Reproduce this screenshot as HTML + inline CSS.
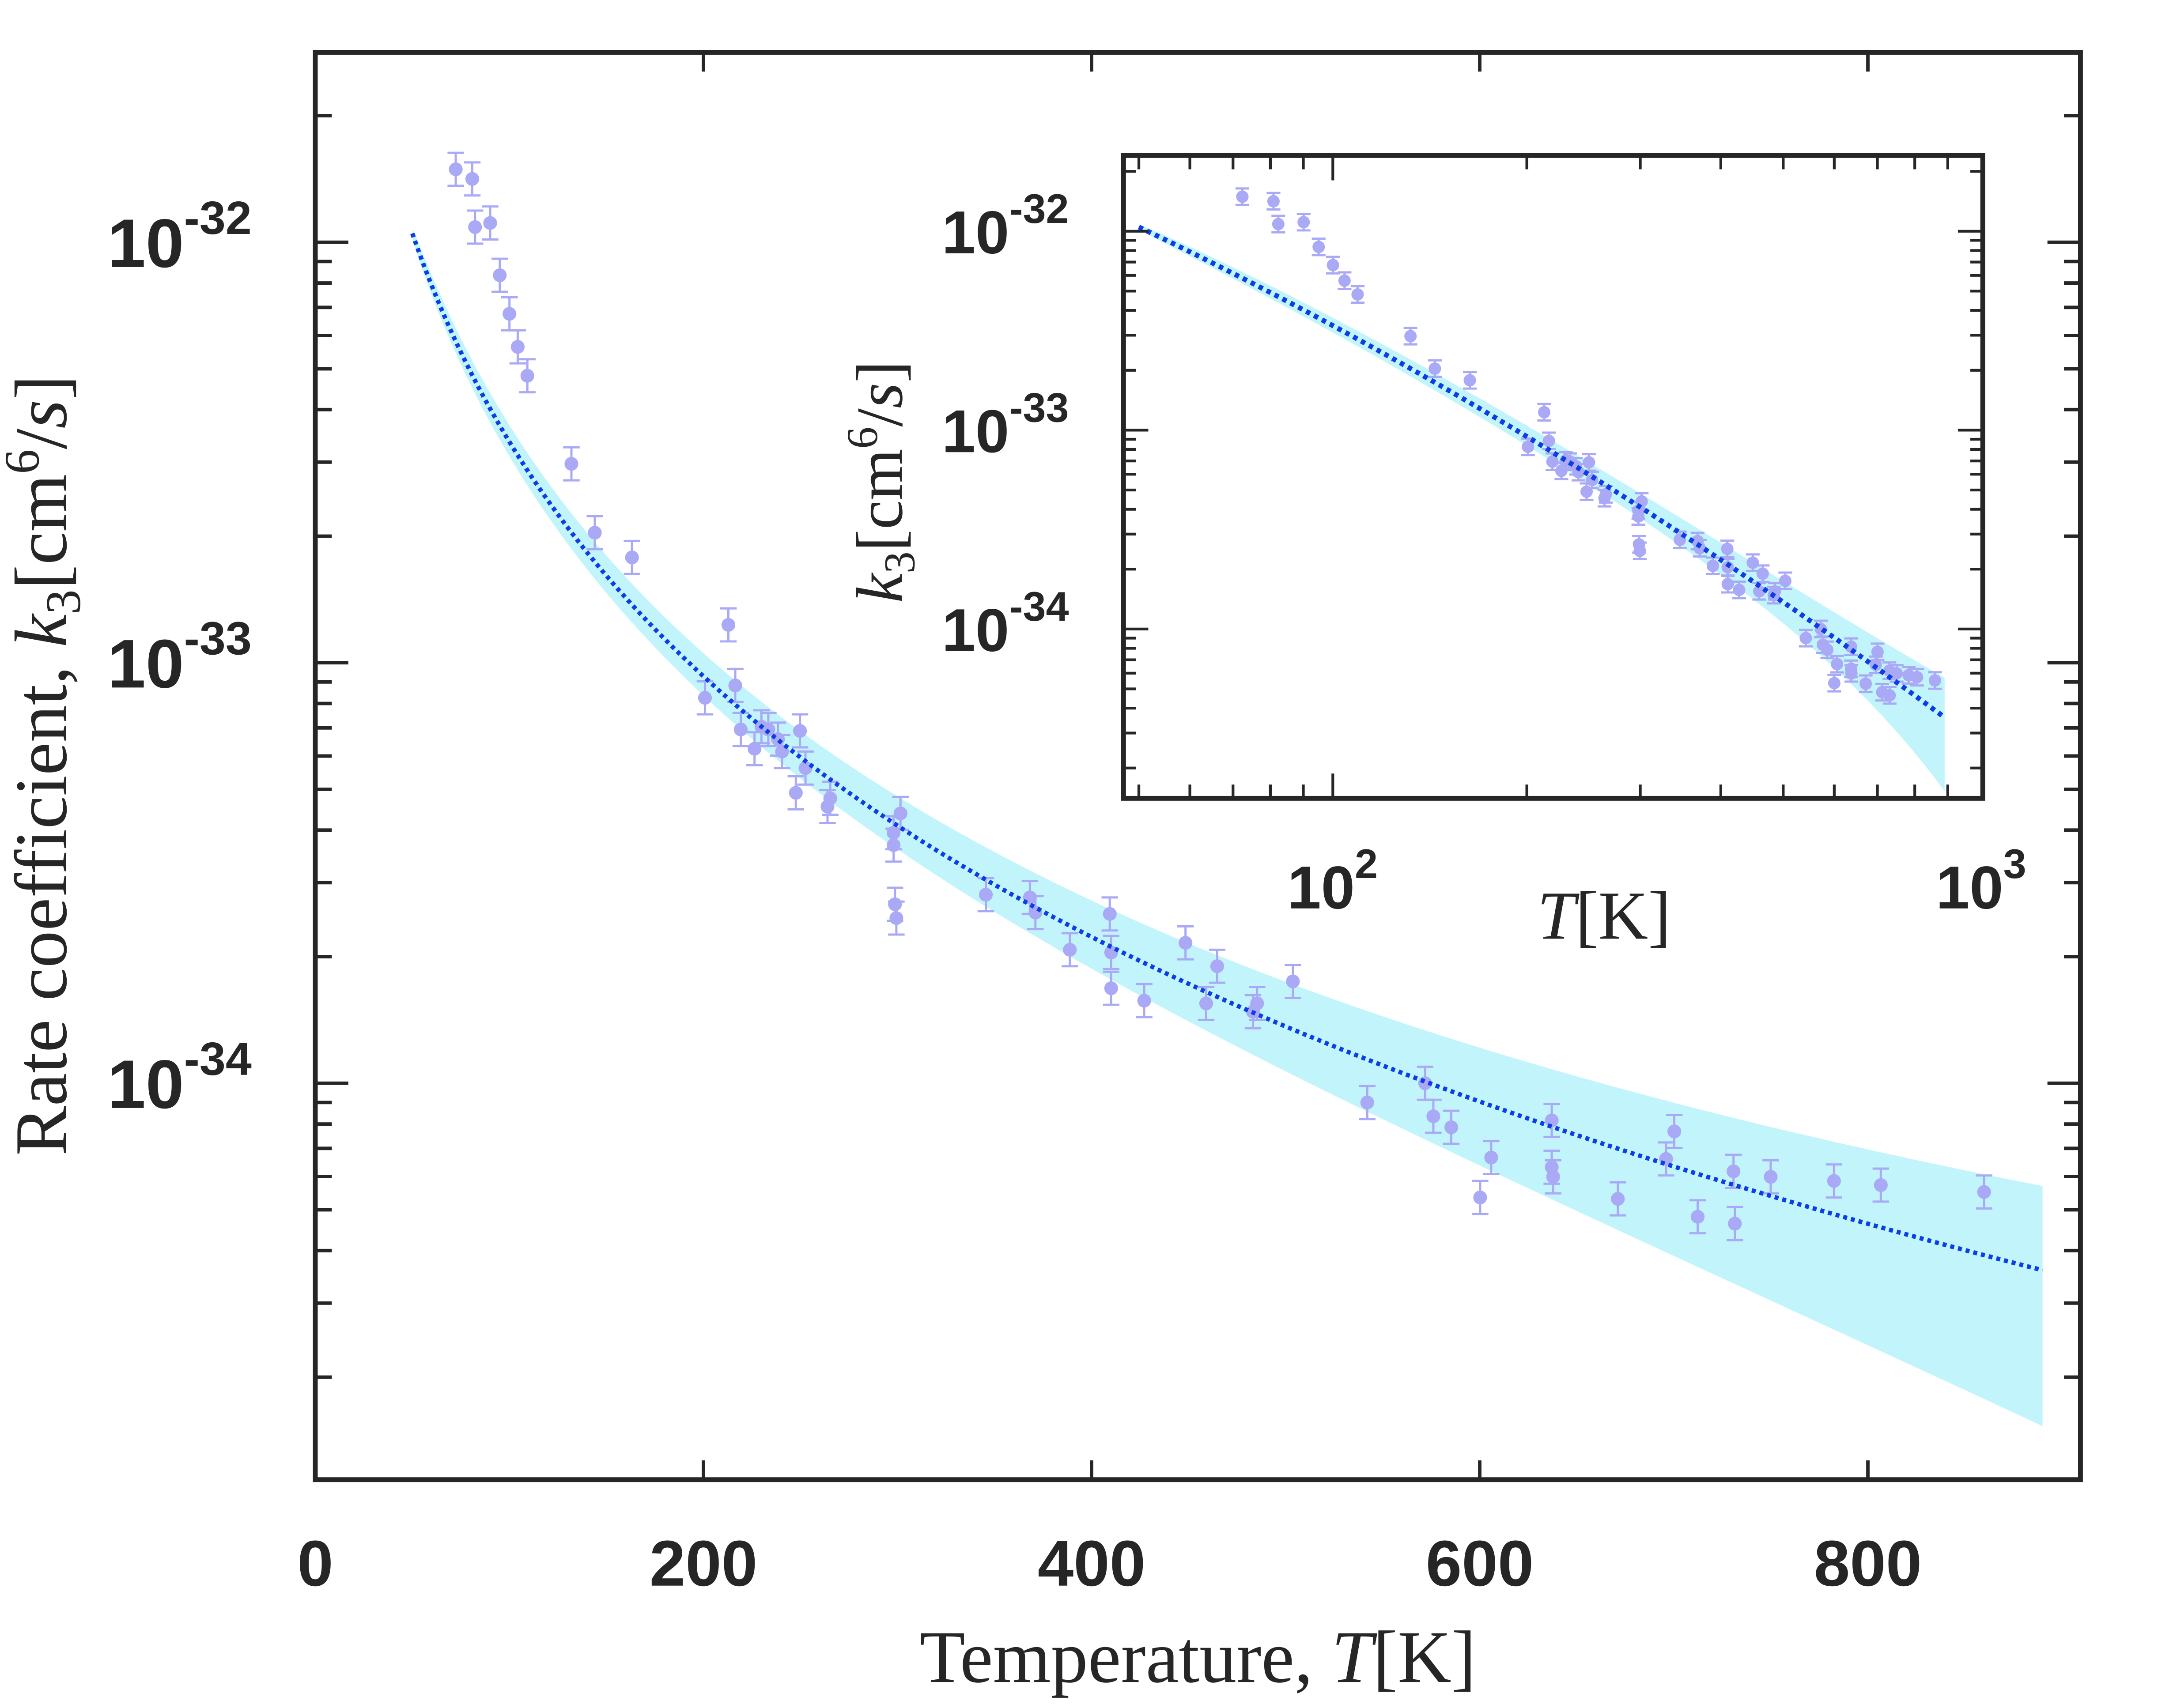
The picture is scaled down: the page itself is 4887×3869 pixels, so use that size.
<!DOCTYPE html>
<html><head><meta charset="utf-8"><style>
html,body{margin:0;padding:0;background:#fff;}
svg{display:block;}
.tk{font-family:"Liberation Sans",sans-serif;font-weight:bold;fill:#262626;}
.lb{font-family:"Liberation Serif",serif;fill:#262626;}
</style></head><body>
<svg id="s" width="4887" height="3869" viewBox="0 0 1567.3 1240.9" preserveAspectRatio="none" xmlns="http://www.w3.org/2000/svg">
<rect x="0" y="0" width="1568" height="1241" fill="#fff"/>
<g id="g"></g>
</svg>
<script>
var g=document.getElementById('g');var out='';
var main=[[331,123],[343,130],[345,165],[356,162],[363,200],[370,228],[376,252],[383,273],[415,337],[432,387],[459,405],[529,454],[512,507],[534,498],[538,530],[548,544],[553,528],[558,530],[565,537],[568,546],[578,576],[581,531],[585,558],[601,586],[603,580],[649,605],[649,614],[650,657],[651,667],[654,591],[716,650],[748,652],[752,663],[777,690],[806,664],[807,692],[807,718],[831,727],[861,685],[876,729],[884,702],[910,735],[913,729],[939,713],[993,801],[1035,787],[1041,811],[1054,819],[1075,870],[1083,841],[1127,814],[1127,848],[1128,855],[1175,871],[1210,842],[1216,822],[1233,884],[1259,851],[1260,889],[1286,855],[1332,858],[1366,861],[1441,866]];
function lk(T){var d=Math.log10(T)-1.699;return -31.979-1.543*d-0.343*d*d;}
function tt(T){return Math.max(0,(Math.log10(T)-1.699)/1.25);}
function up(T){var t=tt(T);return 0.01+0.06*Math.sqrt(t)+0.13*Math.pow(t,5);}
function lo(T){var t=tt(T);return 0.01+0.05*Math.sqrt(t)+0.31*Math.pow(t,8);}
function mx(T){return 229+T*1.4095;}function my(l){return 176+(-32-l)*305.5;}
function ix(T){return 968+(Math.log10(T)-2)*468;}function iy(l){return 168+(-32-l)*144.5;}
function band(fx,fy){var a=[],b=[];for(var i=0;i<=120;i++){var T=50*Math.pow(890/50,i/120);a.push(fx(T).toFixed(2)+','+fy(lk(T)+up(T)).toFixed(2));b.unshift(fx(T).toFixed(2)+','+fy(lk(T)-lo(T)).toFixed(2));}
return '<polygon points="'+a.join(' ')+' '+b.join(' ')+'" fill="#c2f5fb"/>';}
function curve(fx,fy,w){var a=[];for(var i=0;i<=200;i++){var T=50*Math.pow(890/50,i/200);a.push(fx(T).toFixed(2)+','+fy(lk(T)).toFixed(2));}
return '<polyline points="'+a.join(' ')+'" fill="none" stroke="#0b3ee6" stroke-width="'+w+'" stroke-dasharray="'+(w*0.9)+' '+(w*0.9)+'"/>';}
function pts(list,e,r,cw){var s='';list.forEach(function(p){s+='<line x1="'+p[0]+'" y1="'+(p[1]-e)+'" x2="'+p[0]+'" y2="'+(p[1]+e)+'" stroke="#a9a9f5" stroke-width="1.6"/><line x1="'+(p[0]-cw)+'" y1="'+(p[1]-e)+'" x2="'+(p[0]+cw)+'" y2="'+(p[1]-e)+'" stroke="#a9a9f5" stroke-width="1.6"/><line x1="'+(p[0]-cw)+'" y1="'+(p[1]+e)+'" x2="'+(p[0]+cw)+'" y2="'+(p[1]+e)+'" stroke="#a9a9f5" stroke-width="1.6"/><circle cx="'+p[0]+'" cy="'+p[1]+'" r="'+r+'" fill="#a9a9f5"/>';});return s;}
out+=band(mx,my);out+=pts(main,12,5,6);out+=curve(mx,my,3.2);
var L=229,R=1511,Tp=38,B=1075,k='#262626';
out+='<rect x="'+L+'" y="'+Tp+'" width="'+(R-L)+'" height="'+(B-Tp)+'" fill="none" stroke="'+k+'" stroke-width="3.5"/>';
for(var v=0;v<=800;v+=200){var x=mx(v);out+='<line x1="'+x+'" y1="'+B+'" x2="'+x+'" y2="'+(B-14)+'" stroke="'+k+'" stroke-width="2.5"/><line x1="'+x+'" y1="'+Tp+'" x2="'+x+'" y2="'+(Tp+14)+'" stroke="'+k+'" stroke-width="2.5"/>';
out+='<text class="tk" x="'+x+'" y="1152" font-size="47" text-anchor="middle">'+v+'</text>';}
for(var d=-35;d<=-32;d++){for(var m=1;m<10;m++){var l=d+Math.log10(m);var y=my(l);if(y<Tp+2||y>B-2)continue;var len=m==1?24:12;
out+='<line x1="'+L+'" y1="'+y+'" x2="'+(L+len)+'" y2="'+y+'" stroke="'+k+'" stroke-width="2.5"/><line x1="'+R+'" y1="'+y+'" x2="'+(R-len)+'" y2="'+y+'" stroke="'+k+'" stroke-width="2.5"/>';}}
[-32,-33,-34].forEach(function(d){var y=my(d);out+='<text class="tk" x="78" y="'+(y+18)+'" font-size="50">10<tspan dy="-24" font-size="34">'+d+'</tspan></text>';});
out+='<text class="lb" x="870" y="1222" font-size="54" text-anchor="middle">Temperature, <tspan font-style="italic">T</tspan>[K]</text>';
out+='<text class="lb" transform="translate(48,556) rotate(-90)" font-size="54" text-anchor="middle">Rate coefficient, <tspan font-style="italic">k</tspan><tspan font-size="36" dy="10">3</tspan><tspan dy="-10">[cm</tspan><tspan font-size="36" dy="-20">6</tspan><tspan dy="20">/</tspan><tspan font-style="italic">s</tspan>]</text>';
var IL=816,IR=1440,IT=113,IB=580;
out+='<rect x="'+IL+'" y="'+IT+'" width="'+(IR-IL)+'" height="'+(IB-IT)+'" fill="#fff"/>';
out+='<clipPath id="c"><rect x="'+IL+'" y="'+IT+'" width="'+(IR-IL)+'" height="'+(IB-IT)+'"/></clipPath><g clip-path="url(#c)">';
out+=band(ix,iy);
var ins=main.map(function(p){var T=(p[0]-229)/1.4095;var l=-32-(p[1]-176)/305.5;return [parseFloat(ix(T).toFixed(1)),parseFloat(iy(l).toFixed(1))];});
out+=pts(ins,6,4.5,5);out+=curve(ix,iy,3.6);out+='</g>';
out+='<rect x="'+IL+'" y="'+IT+'" width="'+(IR-IL)+'" height="'+(IB-IT)+'" fill="none" stroke="'+k+'" stroke-width="3.5"/>';
[50,60,70,80,90,100,200,300,400,500,600,700,800,900].forEach(function(T){var x=ix(T);var len=(T==100)?18:10;
out+='<line x1="'+x+'" y1="'+IB+'" x2="'+x+'" y2="'+(IB-len)+'" stroke="'+k+'" stroke-width="2"/><line x1="'+x+'" y1="'+IT+'" x2="'+x+'" y2="'+(IT+len)+'" stroke="'+k+'" stroke-width="2"/>';});
for(var d=-35;d<=-32;d++){for(var m=1;m<10;m++){var l=d+Math.log10(m);var y=iy(l);if(y<IT+2||y>IB-2)continue;var len=m==1?18:9;
out+='<line x1="'+IL+'" y1="'+y+'" x2="'+(IL+len)+'" y2="'+y+'" stroke="'+k+'" stroke-width="2"/><line x1="'+IR+'" y1="'+y+'" x2="'+(IR-len)+'" y2="'+y+'" stroke="'+k+'" stroke-width="2"/>';}}
[-32,-33,-34].forEach(function(d){var y=iy(d);out+='<text class="tk" x="684" y="'+(y+16)+'" font-size="44">10<tspan dy="-22" font-size="30">'+d+'</tspan></text>';});
out+='<text class="tk" x="935" y="660" font-size="44">10<tspan dy="-22" font-size="30">2</tspan></text>';
out+='<text class="tk" x="1406" y="660" font-size="44">10<tspan dy="-22" font-size="30">3</tspan></text>';
out+='<text class="lb" x="1165" y="682" font-size="50" text-anchor="middle"><tspan font-style="italic">T</tspan>[K]</text>';
out+='<text class="lb" transform="translate(655,350) rotate(-90)" font-size="48" text-anchor="middle"><tspan font-style="italic">k</tspan><tspan font-size="32" dy="9">3</tspan><tspan dy="-9">[cm</tspan><tspan font-size="32" dy="-18">6</tspan><tspan dy="18">/</tspan><tspan font-style="italic">s</tspan>]</text>';
g.innerHTML=out;
</script>
</body></html>
